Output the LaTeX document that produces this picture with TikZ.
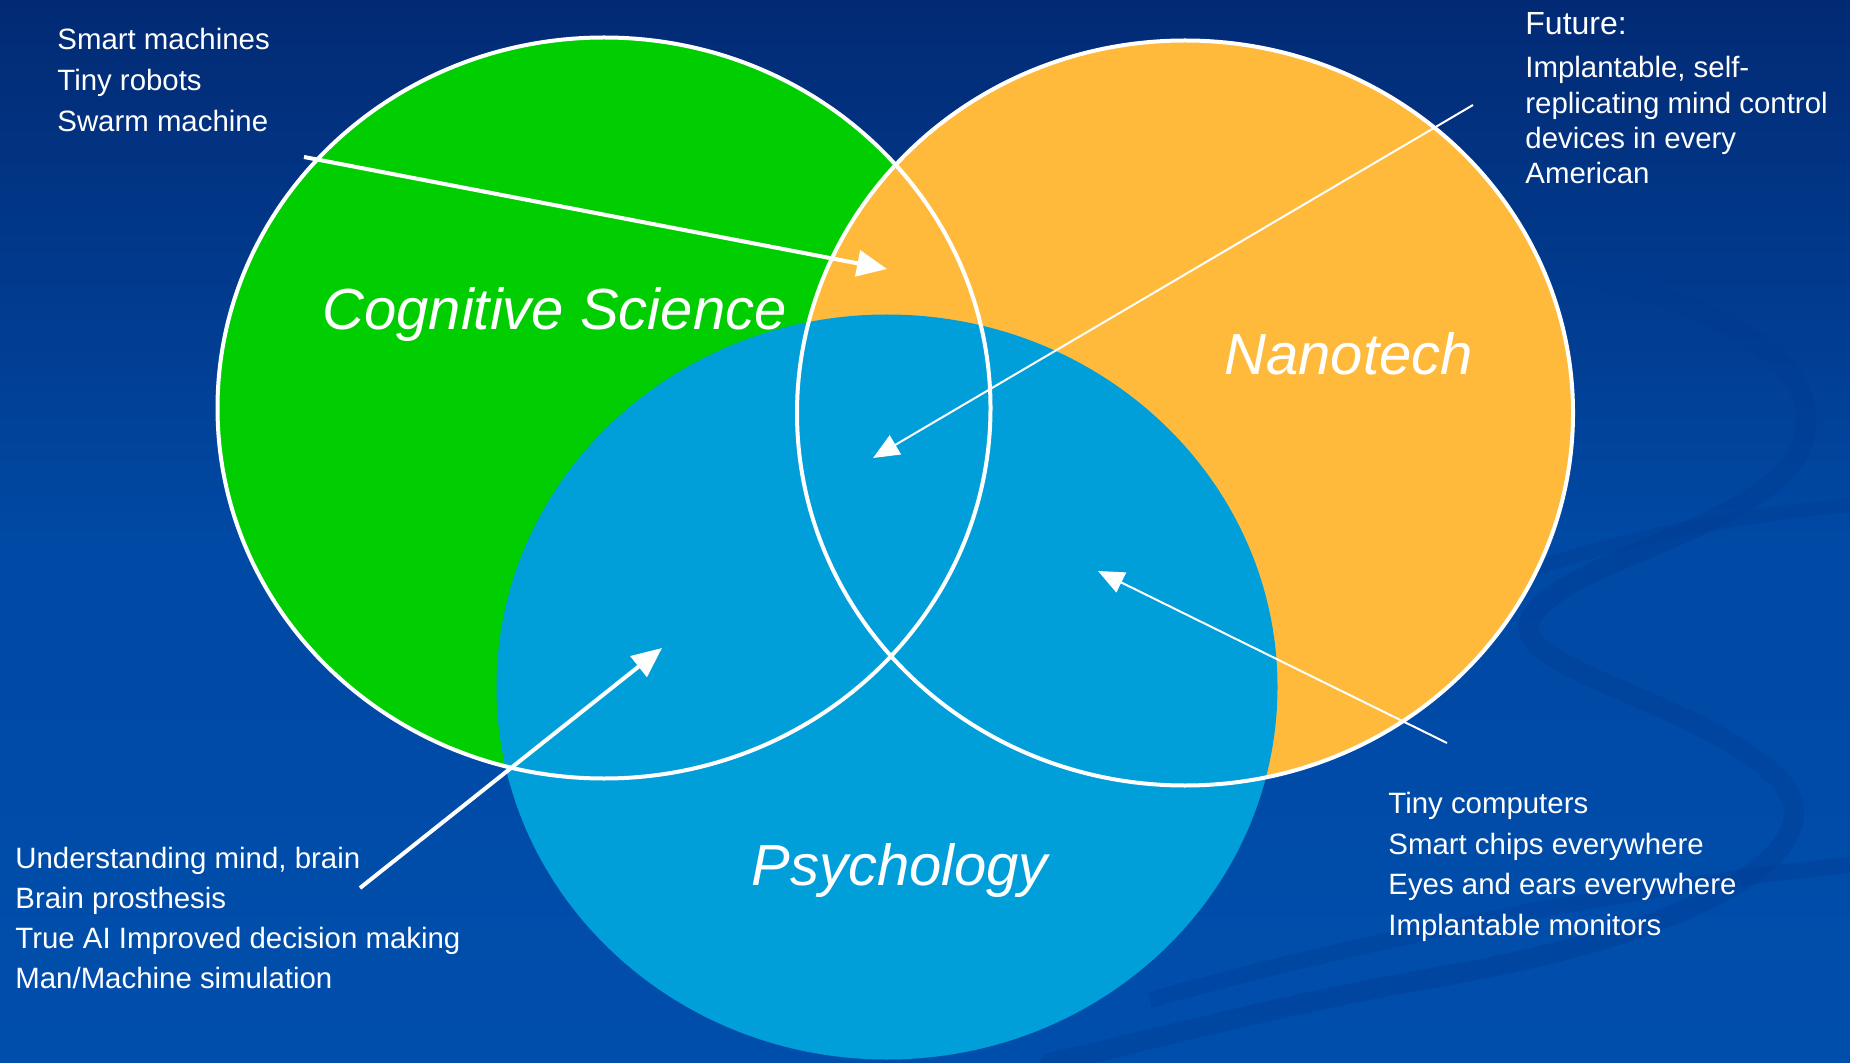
\documentclass[tikz,border=0pt]{standalone}
\usepackage{fontspec}
\setmainfont{Liberation Sans}
\usetikzlibrary{shapes.geometric,arrows.meta}
\definecolor{coggreen}{RGB}{0,206,0}
\definecolor{nanoorange}{RGB}{255,186,60}
\definecolor{psyblue}{RGB}{0,159,217}
\definecolor{bgtop}{RGB}{2,42,116}
\definecolor{bgbot}{RGB}{0,78,172}
\definecolor{swirl}{RGB}{0,58,145}
\begin{document}
\begin{tikzpicture}[x=0.5pt,y=-0.5pt]
\useasboundingbox (0,0) rectangle (1850,1063);
\shade[top color=bgtop,bottom color=bgbot,middle color=bgbot!85!bgtop] (0,0) rectangle (1850,1063);
% faint swirls in the background
\draw[swirl,line width=10pt,opacity=.35,line cap=round] (1400,255) .. controls (1700,270) and (1840,360) .. (1800,450)
  .. controls (1760,530) and (1560,560) .. (1530,620) .. controls (1510,670) and (1700,700) .. (1780,780)
  .. controls (1840,850) and (1700,930) .. (1450,975) .. controls (1300,1000) and (1150,1040) .. (1050,1063);
\draw[swirl,line width=7pt,opacity=.3,line cap=round] (1530,570) .. controls (1650,530) and (1750,515) .. (1850,505);
\draw[swirl,line width=8pt,opacity=.3] (1150,1000) .. controls (1400,930) and (1650,885) .. (1850,865);
\tikzstyle{every node}=[inner sep=0pt,text=white];
\tikzstyle{blob}=[ellipse,draw=none];
\tikzstyle{rim}=[ellipse,draw=white,line width=2pt];
\tikzstyle{field}=[anchor=base west,font=\itshape\fontsize{29}{34}\selectfont];
\tikzstyle{item}=[anchor=base west,font=\fontsize{14.7}{17}\selectfont];
\tikzstyle{thickarrow}=[white,line width=2pt,-{Triangle[length=15pt,width=13pt]}];
\tikzstyle{thinarrow}=[white,line width=1pt,-{Triangle[length=13pt,width=11pt]}];
% the three fields
\node[blob,fill=coggreen,minimum width=386.5pt,minimum height=370.5pt] (cog) at (604,408) {};
\node[blob,fill=nanoorange,minimum width=388pt,minimum height=372.5pt] (nano) at (1185,413) {};
\node[blob,fill=psyblue,minimum width=390.5pt,minimum height=372.5pt] (psy) at (887,687) {};
\node[rim,minimum width=386.5pt,minimum height=370.5pt] (cogrim) at (cog) {};
\node[rim,minimum width=388pt,minimum height=372.5pt] (nanorim) at (nano) {};
\node[field] (coglabel) at (322,330) {Cognitive Science};
\node[field] (nanolabel) at (1224,375) {Nanotech};
\node[field] (psylabel) at (751,885) {Psychology};
% lists
\node[item] (smart) at (57,50) {Smart machines};
\node[item] (robots) at (57,91) {Tiny robots};
\node[item] (swarm) at (57,132) {Swarm machine};
\node[item,font=\fontsize{16}{19}\selectfont] (future) at (1525,35) {Future:};
\node[item] (fut1) at (1525,78) {Implantable, self-};
\node[item] (fut2) at (1525,114) {replicating mind control};
\node[item] (fut3) at (1525,149) {devices in every};
\node[item] (fut4) at (1525,184) {American};
\node[item] (comp) at (1388,813) {Tiny computers};
\node[item] (chips) at (1388,854) {Smart chips everywhere};
\node[item] (eyes) at (1388,894) {Eyes and ears everywhere};
\node[item] (monitors) at (1388,935) {Implantable monitors};
\node[item] (mind) at (15,868) {Understanding mind, brain};
\node[item] (prosth) at (15,908) {Brain prosthesis};
\node[item] (trueai) at (15,948) {True AI Improved decision making};
\node[item] (manmach) at (15,988) {Man/Machine simulation};
% arrows
\coordinate (fromsmart) at (304,157);
\coordinate (tosmart) at (887,269);
\coordinate (fromfut) at (1473,105);
\coordinate (tofut) at (873,458);
\coordinate (frommind) at (360,888);
\coordinate (tomind) at (662,648);
\coordinate (fromcomp) at (1447,743);
\coordinate (tocomp) at (1098,571);
\draw[thickarrow] (fromsmart) -- (tosmart);
\draw[thinarrow] (fromfut) -- (tofut);
\draw[thickarrow] (frommind) -- (tomind);
\draw[thinarrow] (fromcomp) -- (tocomp);
\end{tikzpicture}
\end{document}
